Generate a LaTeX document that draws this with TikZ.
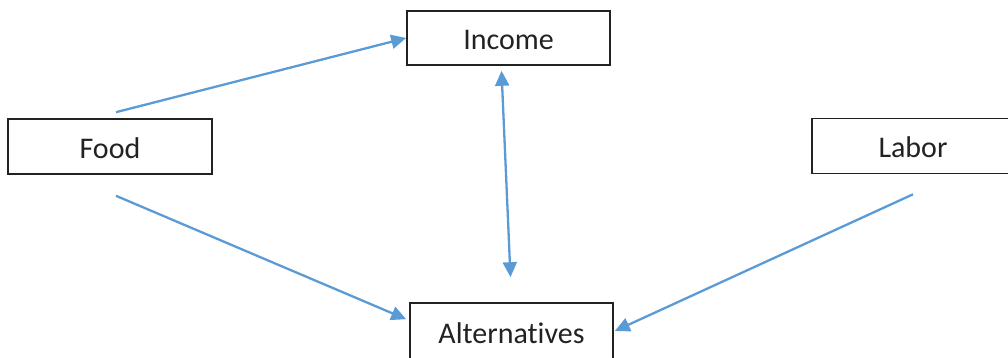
\documentclass[tikz,border=0pt]{standalone}
\usepackage{fontspec}
\setmainfont{Carlito}[Ligatures={NoCommon,NoContextual}]
\usetikzlibrary{arrows.meta}
\definecolor{linkblue}{HTML}{5B9BD5}
\definecolor{boxline}{HTML}{222222}
\begin{document}
\begin{tikzpicture}[x=1pt,y=-1pt,
  box/.style={draw=boxline,line width=1.6pt,rectangle,inner sep=0pt,
    text=boxline,font=\fontsize{30}{36}\selectfont,text height=24pt,text depth=0pt},
  link/.style={draw=linkblue,line width=2.3pt,-{Triangle[length=15pt,width=14pt]}},
  dlink/.style={draw=linkblue,line width=2.3pt,{Triangle[length=15pt,width=14pt]}-{Triangle[length=15pt,width=14pt]}}]
\useasboundingbox (0,0) rectangle (1008,358);
\clip (0,0) rectangle (1008,358);
\node[box,minimum width=203pt,minimum height=54pt] (income) at (508.5,38) {Income};
\node[box,minimum width=204pt,minimum height=55pt] (food) at (110,146.5) {Food};
\node[box,minimum width=202pt,minimum height=55pt] (labor) at (913,146) {Labor};
\node[box,minimum width=203pt,minimum height=56pt] (alt) at (511.5,331) {Alternatives};
\draw[link] ([xshift=6pt,yshift=6pt]food.north) -- (income.west);
\draw[link] ([xshift=6pt,yshift=-21pt]food.south) -- ([xshift=-3pt,yshift=-17pt]alt.north west);
\draw[link] ([yshift=-20pt]labor.south) -- ([xshift=1pt]alt.east);
\draw[dlink] ([xshift=-7pt,yshift=-5pt]income.south) -- ([xshift=-1pt,yshift=25pt]alt.north);
\end{tikzpicture}
\end{document}
